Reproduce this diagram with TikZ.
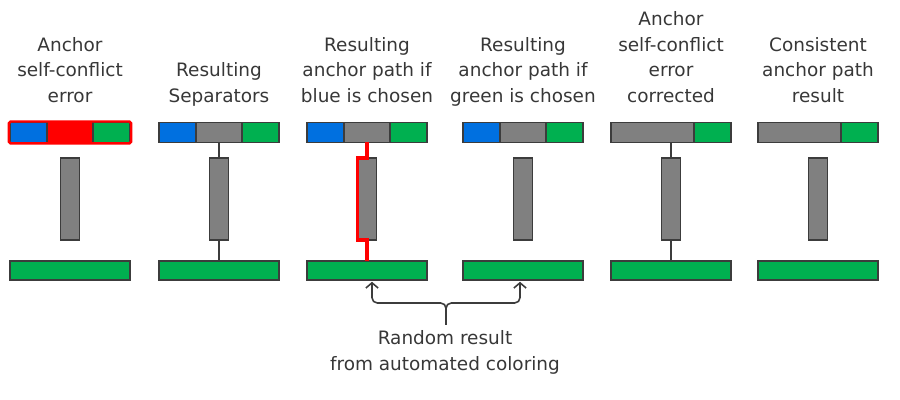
\documentclass[tikz,border=0pt]{standalone}
\usepackage{fontspec}
\setmainfont{DejaVu Sans}
\usetikzlibrary{arrows.meta,positioning}

\definecolor{segblue}{RGB}{0,112,224}
\definecolor{seggreen}{RGB}{0,176,80}
\definecolor{seggray}{RGB}{128,128,128}
\definecolor{edgegray}{RGB}{60,60,60}
\definecolor{textgray}{RGB}{55,55,55}

\tikzset{
    seg/.style={draw=edgegray, line width=0.65pt, minimum height=0.39cm, inner sep=0pt, outer sep=0pt},
    errmid/.style={fill=red, draw=red},
    plainmid/.style={fill=seggray},
    sepbar/.style={seg, fill=seggray, minimum width=0.38cm, minimum height=1.64cm},
    basebar/.style={seg, fill=seggreen, minimum width=2.4cm, minimum height=0.38cm},
    title/.style={text=textgray, align=center, inner sep=0pt, anchor=south, text depth=0pt,
        font=\fontsize{10.5}{14.6}\selectfont},
    link/.style={draw=edgegray, line width=1pt},
    chosen/.style={draw=red, line width=2pt},
    brace/.style={->, >={Straight Barb[length=3pt,width=7pt]}, draw=edgegray, line width=0.9pt,
        rounded corners=3pt, shorten >=1pt}
}

\begin{document}
\begin{tikzpicture}
    \useasboundingbox (0,0) rectangle (18,-8);

    % separators and base anchors
    \foreach \i/\x in {1/1.4, 2/4.38, 3/7.34, 4/10.46, 5/13.42, 6/16.36} {
        \node[sepbar] (sep\i) at (\x,-3.98) {};
        \node[basebar] (base\i) at (\x,-5.41) {};
    }

    % three-colour top bars
    \foreach \i/\x/\mid in {1/1.4/errmid, 2/4.38/plainmid, 3/7.34/plainmid, 4/10.46/plainmid} {
        \node[seg, \mid, minimum width=0.92cm] (mid\i) at (\x,-2.65) {};
        \node[seg, fill=segblue, minimum width=0.74cm, left=0pt of mid\i] (blue\i) {};
        \node[seg, fill=seggreen, minimum width=0.74cm, right=0pt of mid\i] (green\i) {};
    }

    % two-colour top bars
    \foreach \i/\x in {5/13.42, 6/16.36} {
        \node[seg, plainmid, minimum width=1.66cm] (mid\i) at (\x-0.37,-2.65) {};
        \node[seg, fill=seggreen, minimum width=0.74cm, right=0pt of mid\i] (green\i) {};
    }

    \draw[red, line width=1.4pt, rounded corners=1pt]
        ([shift={(-0.7pt,0.7pt)}]blue1.north west) rectangle ([shift={(0.7pt,-0.7pt)}]green1.south east);

    % titles
    \node[title] (title1) at (1.4,-2.06) {Anchor\\self-conflict\\error};
    \node[title] (title2) at (4.38,-2.06) {Resulting\\Separators};
    \node[title] (title3) at (7.34,-2.06) {Resulting\\anchor path if\\blue is chosen};
    \node[title] (title4) at (10.46,-2.06) {Resulting\\anchor path if\\green is chosen};
    \node[title] (title5) at (13.42,-2.06) {Anchor\\self-conflict\\error\\corrected};
    \node[title] (title6) at (16.36,-2.06) {Consistent\\anchor path\\result};

    % connectors
    \draw[link] (mid2.south) -- (sep2.north) (sep2.south) -- (base2.north);
    \draw[link] (sep5.north |- mid5.south) -- (sep5.north) (sep5.south) -- (base5.north);
    \draw[chosen] (mid3.south) -- (sep3.north) -- (sep3.north west) -- (sep3.south west)
        -- (sep3.south) -- (base3.north);

    % random result brace
    \node[title] (note) at (8.9,-7.41) {Random result\\from automated coloring};
    \coordinate (tip) at (8.92,-6.5);
    \coordinate (knee) at (8.92,-6.06);
    \draw[brace] (tip) -- (knee) -| ([xshift=0.1cm]base3.south);
    \draw[brace] (tip) -- (knee) -| ([xshift=-0.06cm]base4.south);
\end{tikzpicture}
\end{document}
